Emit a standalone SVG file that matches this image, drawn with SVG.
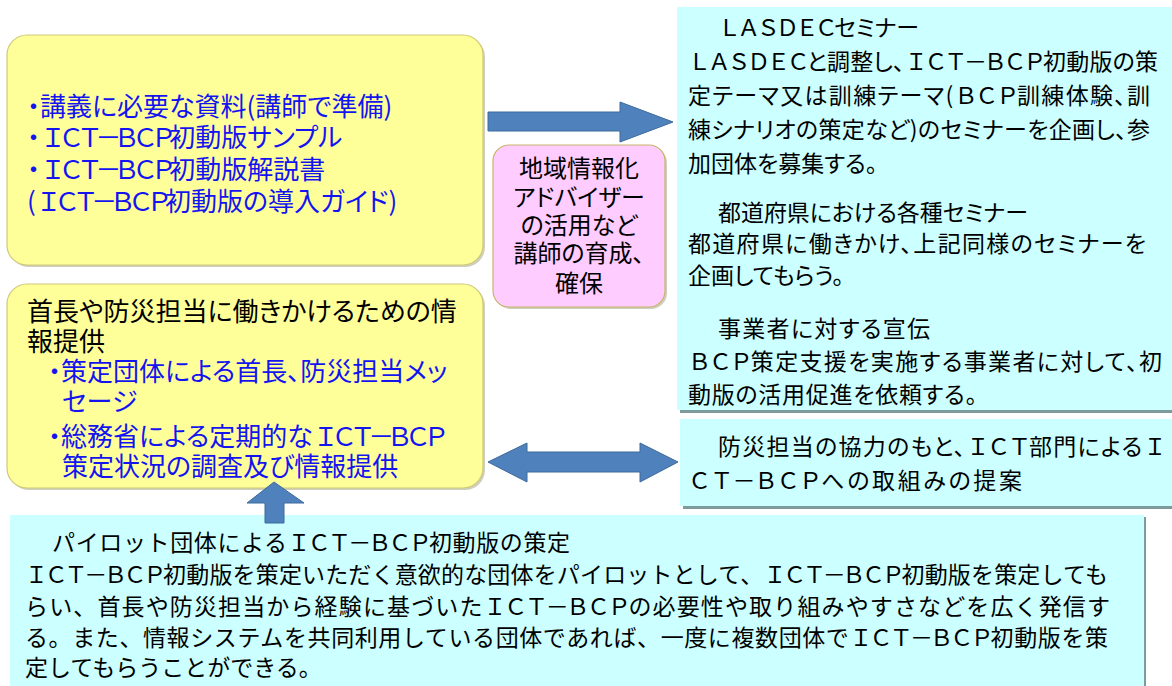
<svg xmlns="http://www.w3.org/2000/svg" width="1172" height="686" viewBox="0 0 1172 686">
<style>
.y{fill:#ffff99;stroke:#cfc978;stroke-width:1.2}
.ysh{fill:#a8a88a;opacity:.55}
.pk{fill:#ffccff;stroke:#c8b46a;stroke-width:1.2}
.cy{fill:#ccffff}
.sh{fill:#7f9a9a}
.ar{fill:#4f81bd;stroke:#3d6a9c;stroke-width:1}
text{font-family:"Noto Sans CJK JP","Noto Sans CJK SC",sans-serif}
.p{font-feature-settings:"palt" 1}
.f26{font-size:26px}
.f24{font-size:24px}
.f23{font-size:23px}
.b{fill:#1414f0}
.k{fill:#000}
.L{font-feature-settings:normal;letter-spacing:-0.29em}
.M{font-feature-settings:normal;letter-spacing:-0.15em}
</style>
<rect width="1172" height="686" fill="#ffffff"/>

<g id="connectors">
  <polygon class="ar" points="488,112 620,112 620,102 673,122 620,142 620,131 488,131"/>
  <polygon class="ar" points="488,462 527,443 527,452 640,452 640,443 678,462 640,482 640,472 527,472 527,482"/>
</g>

<g id="materials">
  <rect class="ysh" x="9" y="37" width="476" height="230" rx="20"/>
  <rect class="y" x="7" y="35" width="476" height="230" rx="20"/>
  <text class="f26 b p" x="27" y="116">・講義に必要な資料(講師で準備)</text>
  <text class="f26 b p" x="27" y="147">・<tspan class="L">ＩＣＴ－ＢＣＰ</tspan>初動版サンプル</text>
  <text class="f26 b p" x="27" y="179">・<tspan class="L">ＩＣＴ－ＢＣＰ</tspan>初動版解説書</text>
  <text class="f26 b p" x="27" y="211">(<tspan class="L">ＩＣＴ－ＢＣＰ</tspan>初動版の導入ガイド)</text>
</g>

<g id="info">
  <rect class="ysh" x="9" y="286" width="476" height="204" rx="20"/>
  <rect class="y" x="7" y="284" width="476" height="204" rx="20"/>
  <text class="f26 k p" x="27" y="321">首長や防災担当に働きかけるための情</text>
  <text class="f26 k p" x="27" y="351">報提供</text>
  <text class="f26 b p" x="48" y="381">・策定団体による首長、防災担当メッ</text>
  <text class="f26 b p" x="62" y="411">セージ</text>
  <text class="f26 b p" x="48" y="446">・総務省による定期的な<tspan class="L">ＩＣＴ－ＢＣＰ</tspan></text>
  <text class="f26 b p" x="62" y="476">策定状況の調査及び情報提供</text>
</g>

<g id="advisor">
  <rect class="ysh" x="495" y="147" width="172" height="162" rx="16"/>
  <rect class="pk" x="493" y="145" width="172" height="162" rx="16"/>
  <text class="f24 k p" x="579" y="177" text-anchor="middle">地域情報化</text>
  <text class="f24 k p" x="579" y="206" text-anchor="middle">アドバイザー</text>
  <text class="f24 k p" x="579" y="234" text-anchor="middle">の活用など</text>
  <text class="f24 k p" x="579" y="262" text-anchor="middle">講師の育成、</text>
  <text class="f24 k p" x="579" y="292" text-anchor="middle">確保</text>
</g>

<g id="seminars">
  <rect class="sh" x="680" y="10" width="492" height="403"/>
  <rect class="cy" x="677" y="7" width="495" height="403"/>
  <text class="f23 k p" x="718" y="36" textLength="201" lengthAdjust="spacing"><tspan class="M">ＬＡＳＤＥＣ</tspan>セミナー</text>
  <text class="f23 k p" x="688" y="70" textLength="470" lengthAdjust="spacing"><tspan class="M">ＬＡＳＤＥＣ</tspan>と調整し、<tspan class="M">ＩＣＴ－ＢＣＰ</tspan>初動版の策</text>
  <text class="f23 k p" x="688" y="104" textLength="462" lengthAdjust="spacing">定テーマ又は訓練テーマ(<tspan class="M">ＢＣＰ</tspan>訓練体験、訓</text>
  <text class="f23 k p" x="688" y="138" textLength="462" lengthAdjust="spacing">練シナリオの策定など)のセミナーを企画し、参</text>
  <text class="f23 k p" x="688" y="172">加団体を募集する。</text>
  <text class="f23 k p" x="718" y="221" textLength="310" lengthAdjust="spacing">都道府県における各種セミナー</text>
  <text class="f23 k p" x="688" y="252" textLength="458" lengthAdjust="spacing">都道府県に働きかけ、上記同様のセミナーを</text>
  <text class="f23 k p" x="688" y="284">企画してもらう。</text>
  <text class="f23 k p" x="718" y="337" textLength="212" lengthAdjust="spacing">事業者に対する宣伝</text>
  <text class="f23 k p" x="688" y="370" textLength="474" lengthAdjust="spacing"><tspan class="M">ＢＣＰ</tspan>策定支援を実施する事業者に対して、初</text>
  <text class="f23 k p" x="688" y="403" textLength="289" lengthAdjust="spacing">動版の活用促進を依頼する。</text>
</g>

<g id="proposal">
  <rect class="sh" x="683" y="422" width="489" height="87"/>
  <rect class="cy" x="680" y="419" width="492" height="87"/>
  <text class="f23 k p" x="718" y="455" textLength="445" lengthAdjust="spacing">防災担当の協力のもと、<tspan class="M">ＩＣＴ</tspan>部門による<tspan class="M">Ｉ</tspan></text>
  <text class="f23 k p" x="688" y="489" textLength="334" lengthAdjust="spacing"><tspan class="M">ＣＴ－ＢＣＰ</tspan>への取組みの提案</text>
</g>

<g id="pilot">
  <rect class="sh" x="12" y="517" width="1134" height="171"/>
  <rect class="cy" x="10" y="515" width="1134" height="171"/>
  <text class="f23 k" x="52" y="551" textLength="518" lengthAdjust="spacing">パイロット団体による<tspan class="M">ＩＣＴ－ＢＣＰ</tspan>初動版の策定</text>
  <text class="f23 k" x="25" y="583" textLength="1083" lengthAdjust="spacing"><tspan class="M">ＩＣＴ－ＢＣＰ</tspan>初動版を策定いただく意欲的な団体をパイロットとして、<tspan class="M">ＩＣＴ－ＢＣＰ</tspan>初動版を策定しても</text>
  <text class="f23 k" x="25" y="615" textLength="1085" lengthAdjust="spacing">らい、首長や防災担当から経験に基づいた<tspan class="M">ＩＣＴ－ＢＣＰ</tspan>の必要性や取り組みやすさなどを広く発信す</text>
  <text class="f23 k" x="25" y="646" textLength="1083" lengthAdjust="spacing">る。また、情報システムを共同利用している団体であれば、一度に複数団体で<tspan class="M">ＩＣＴ－ＢＣＰ</tspan>初動版を策</text>
  <text class="f23 k" x="25" y="676">定してもらうことができる。</text>
</g>

<g id="connectors-up">
  <polygon class="ar" points="274,482 304,503 284,503 284,523 265,523 265,503 247,503"/>
</g>
</svg>
